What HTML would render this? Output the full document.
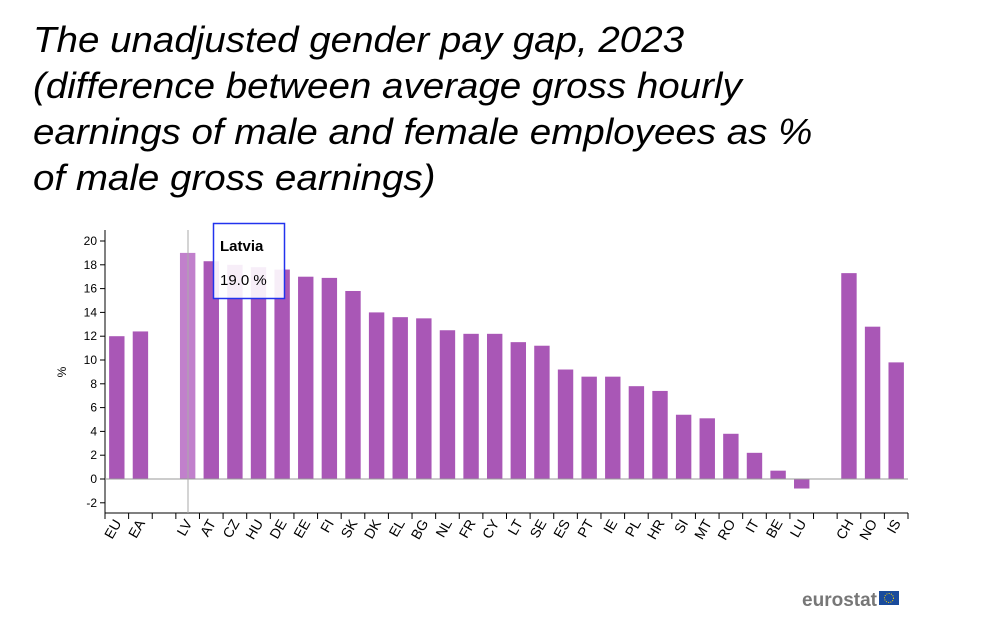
<!DOCTYPE html>
<html><head><meta charset="utf-8"><style>
body{margin:0;background:#fff;width:1000px;height:625px;overflow:hidden;font-family:"Liberation Sans",Arial,sans-serif}
.t{position:absolute;left:33px;top:17px;font-size:36px;font-style:italic;line-height:46px;color:#000;white-space:nowrap;transform:scaleX(1.07);transform-origin:0 0}
</style></head><body>
<div class="t">The unadjusted gender pay gap, 2023<br>(difference between average gross hourly<br>earnings of male and female employees as %<br>of male gross earnings)</div>
<svg width="1000" height="625" style="position:absolute;left:0;top:0" font-family="Liberation Sans, Arial, sans-serif">
<g id="c"></g>
</svg>
<script>
const d=[["EU",12.0],["EA",12.4],["",null],["LV",19.0],["AT",18.3],["CZ",18.0],["HU",17.8],["DE",17.6],["EE",17.0],["FI",16.9],["SK",15.8],["DK",14.0],["EL",13.6],["BG",13.5],["NL",12.5],["FR",12.2],["CY",12.2],["LT",11.5],["SE",11.2],["ES",9.2],["PT",8.6],["IE",8.6],["PL",7.8],["HR",7.4],["SI",5.4],["MT",5.1],["RO",3.8],["IT",2.2],["BE",0.7],["LU",-0.8],["",null],["CH",17.3],["NO",12.8],["IS",9.8]];
const x0=105,x1=908,y0=479,k=11.9,bw=(x1-x0)/d.length;
let s='';
const Y=v=>y0-v*k;
for(let v=-2;v<=20;v+=2){s+=`<line x1="100" x2="105" y1="${Y(v)}" y2="${Y(v)}" stroke="#000"/><text x="97" y="${Y(v)+4}" font-size="12" text-anchor="end">${v}</text>`;}
s+=`<line x1="105" x2="105" y1="230" y2="513" stroke="#000"/>`;
s+=`<text transform="translate(66,372) rotate(-90)" font-size="12" text-anchor="middle">%</text>`;
d.forEach((e,i)=>{const cx=x0+bw*(i+.5);
if(e[1]!==null){const y=Y(Math.max(e[1],0)),h=Math.abs(e[1])*k;s+=`<rect x="${cx-7.7}" y="${y}" width="15.4" height="${h}" fill="${e[0]=='LV'?'#c180cc':'#a957b6'}"/>`;}
});
s+=`<line x1="105" x2="${x1}" y1="${y0}" y2="${y0}" stroke="#999"/>`;
s+=`<line x1="${x1}" x2="${x1}" y1="513" y2="519" stroke="#000"/><line x1="105" x2="${x1}" y1="513" y2="513" stroke="#000"/>`;
d.forEach((e,i)=>{const tx=x0+bw*i;s+=`<line x1="${tx}" x2="${tx}" y1="513" y2="519" stroke="#000"/>`;
const cx=x0+bw*(i+.5);if(e[0])s+=`<text transform="translate(${cx+5},523) rotate(-60)" font-size="14" text-anchor="end">${e[0]}</text>`;});
s+=`<line x1="188" x2="188" y1="230" y2="513" stroke="#aaa"/>`;
s+=`<rect x="213.5" y="223.5" width="71" height="75" fill="#fff" fill-opacity="0.9" stroke="#2233ee" stroke-width="1.5"/><text x="220" y="251" font-size="15" font-weight="bold">Latvia</text><text x="220" y="285" font-size="15">19.0 %</text>`;
s+=`<text x="877" y="606" font-size="19" font-weight="bold" fill="#777" text-anchor="end">eurostat</text><rect x="879" y="591" width="20" height="14" fill="#1a4b9c"/><circle cx="889" cy="598" r="4.5" fill="none" stroke="#f5d20a" stroke-dasharray="1 1.3"/>`;
document.getElementById('c').innerHTML=s;
</script>
</body></html>
